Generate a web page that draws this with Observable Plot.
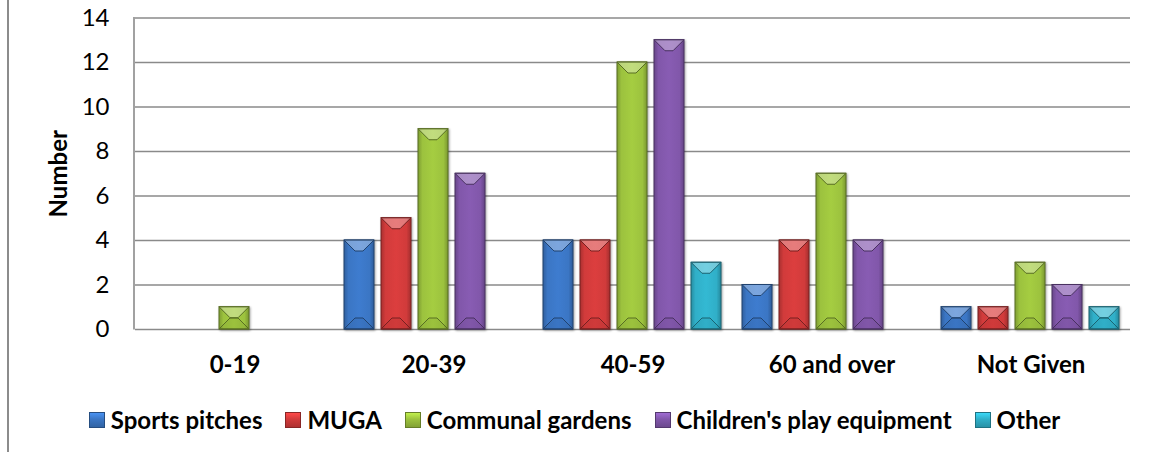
<!DOCTYPE html>
<html>
<head>
<meta charset="utf-8">
<script src="https://cdn.jsdelivr.net/npm/d3@7"></script>
<script src="https://cdn.jsdelivr.net/npm/@observablehq/plot@0.6"></script>
<style>
  html, body { margin: 0; padding: 0; background: #fff; }
  #wrap { position: relative; width: 1149px; height: 452px; overflow: hidden; font-family: Lato, "Open Sans", sans-serif; }
  #border { position: absolute; left: 7px; top: 0; width: 0; height: 452px; border-left: 2px solid #8c8c8c; }
  #chart { position: absolute; left: 0; top: 0; }
  #legend { position: absolute; left: 0; top: 405px; width: 1149px; display: flex; justify-content: center; align-items: center; gap: 23px; font-weight: bold; font-size: 24px; color: #000; }
  #legend .item { display: flex; align-items: center; gap: 6px; white-space: nowrap; }
  #legend .sw { width: 16px; height: 16px; box-sizing: border-box; }
  g[aria-label="y-axis label"] text { font-weight: bold; }
  g[aria-label="bar"] { filter: drop-shadow(1.5px 1.5px 1px rgba(0,0,0,0.35)); }
</style>
</head>
<body>
<div id="wrap">
  <div id="border"></div>
  <div id="chart"></div>
  <div id="legend"></div>
</div>
<script>
const categories = ["0-19", "20-39", "40-59", "60 and over", "Not Given"];
const series = ["Sports pitches", "MUGA", "Communal gardens", "Children's play equipment", "Other"];
const seriesColors = ["#3b76c4", "#d13b3b", "#9cc23e", "#8157aa", "#30afc8"];
const sportsPitches = [0, 4, 4, 2, 1];
const muga = [0, 5, 4, 4, 1];
const communalGardens = [1, 9, 12, 7, 3];
const childrensPlay = [0, 7, 13, 4, 2];
const other = [0, 0, 3, 0, 1];
const yTicks = [0, 2, 4, 6, 8, 10, 12, 14];

const valuesBySeries = [sportsPitches, muga, communalGardens, childrensPlay, other];
const data = [];
categories.forEach((c, ci) => {
  series.forEach((s, si) => {
    data.push({category: c, series: s, si, value: valuesBySeries[si][ci]});
  });
});
const bars = data.filter(d => d.value > 0);

function bevel(index, scales, values, dimensions, context, next) {
  const g = next(index, scales, values, dimensions, context);
  const rects = Array.from(g.querySelectorAll("rect"));
  rects.forEach(rect => {
    const x = +rect.getAttribute("x"), y = +rect.getAttribute("y");
    const w = +rect.getAttribute("width"), h = +rect.getAttribute("height");
    const d = Math.min(11, h / 2, w / 2);
    const parent = rect.parentNode;
    const ns = "http://www.w3.org/2000/svg";
    const top = document.createElementNS(ns, "polygon");
    top.setAttribute("points", [[x, y], [x + w, y], [x + w - d, y + d], [x + d, y + d]].map(p => p.join(",")).join(" "));
    top.setAttribute("fill", "rgba(255,255,255,0.32)");
    const bot = document.createElementNS(ns, "polygon");
    bot.setAttribute("points", [[x, y + h], [x + w, y + h], [x + w - d, y + h - d], [x + d, y + h - d]].map(p => p.join(",")).join(" "));
    bot.setAttribute("fill", "rgba(0,0,0,0.05)");
    parent.appendChild(top);
    parent.appendChild(bot);
  });
  return g;
}

const marks = [
  Plot.gridY(yTicks, {stroke: "#8a8a8a", strokeOpacity: 1, strokeWidth: 1.6}),
  Plot.axisY({ticks: yTicks, tickSize: 0, tickPadding: 26, tickFormat: d => String(d), label: "Number", labelAnchor: "center", labelOffset: 86, labelArrow: "none"}),
  Plot.axisFx({anchor: "bottom", tickSize: 0, tickPadding: 26, fontWeight: "bold", label: null}),
];
series.forEach((s, si) => {
  marks.push(Plot.barY(bars.filter(d => d.si === si), {
    fx: "category", x: "series", y: "value",
    fill: `url(#grad${si})`,
    stroke: d3.color(seriesColors[si]).darker(1.6).formatHex(),
    strokeWidth: 1,
    render: bevel
  }));
});

const plot = Plot.plot({
  width: 1149,
  height: 390,
  marginLeft: 134,
  marginRight: 19,
  marginTop: 17.5,
  marginBottom: 61,
  style: {fontFamily: "Lato, 'Open Sans', sans-serif", fontSize: "24px", color: "#000", background: "transparent", overflow: "visible"},
  fx: {domain: categories, padding: 0, label: null},
  x: {domain: series, paddingInner: 0.18, paddingOuter: 0.27, axis: null},
  y: {domain: [0, 14], label: "Number"},
  marks
});

// gradients
const ns = "http://www.w3.org/2000/svg";
const defs = document.createElementNS(ns, "defs");
seriesColors.forEach((c, i) => {
  const lg = document.createElementNS(ns, "linearGradient");
  lg.setAttribute("id", `grad${i}`);
  lg.setAttribute("x1", "0"); lg.setAttribute("x2", "1"); lg.setAttribute("y1", "0"); lg.setAttribute("y2", "0");
  const stops = [[0, d3.color(c).darker(0.6)], [0.15, d3.color(c)], [0.5, d3.color(c).brighter(0.15)], [0.85, d3.color(c)], [1, d3.color(c).darker(0.7)]];
  stops.forEach(([o, col]) => {
    const st = document.createElementNS(ns, "stop");
    st.setAttribute("offset", o);
    st.setAttribute("stop-color", col.formatHex());
    lg.appendChild(st);
  });
  defs.appendChild(lg);
});
plot.insertBefore(defs, plot.firstChild);

// left axis line
const yScale = plot.scale("y");
const line = document.createElementNS(ns, "line");
line.setAttribute("x1", 134); line.setAttribute("x2", 134);
line.setAttribute("y1", yScale.range[0] + 0.5); line.setAttribute("y2", yScale.range[1] - 0.5);
line.setAttribute("stroke", "#8a8a8a"); line.setAttribute("stroke-width", 1.6);
plot.appendChild(line);

document.getElementById("chart").appendChild(plot);

// legend
const legend = document.getElementById("legend");
series.forEach((s, i) => {
  const c = d3.color(seriesColors[i]);
  const item = document.createElement("div");
  item.className = "item";
  const sw = document.createElement("div");
  sw.className = "sw";
  sw.style.background = `linear-gradient(180deg, ${c.brighter(0.6).formatHex()} 0%, ${c.formatHex()} 45%, ${c.darker(0.5).formatHex()} 100%)`;
  sw.style.border = `1px solid ${c.darker(1.2).formatHex()}`;
  const t = document.createElement("span");
  t.textContent = s;
  item.appendChild(sw);
  item.appendChild(t);
  legend.appendChild(item);
});
</script>
</body>
</html>
